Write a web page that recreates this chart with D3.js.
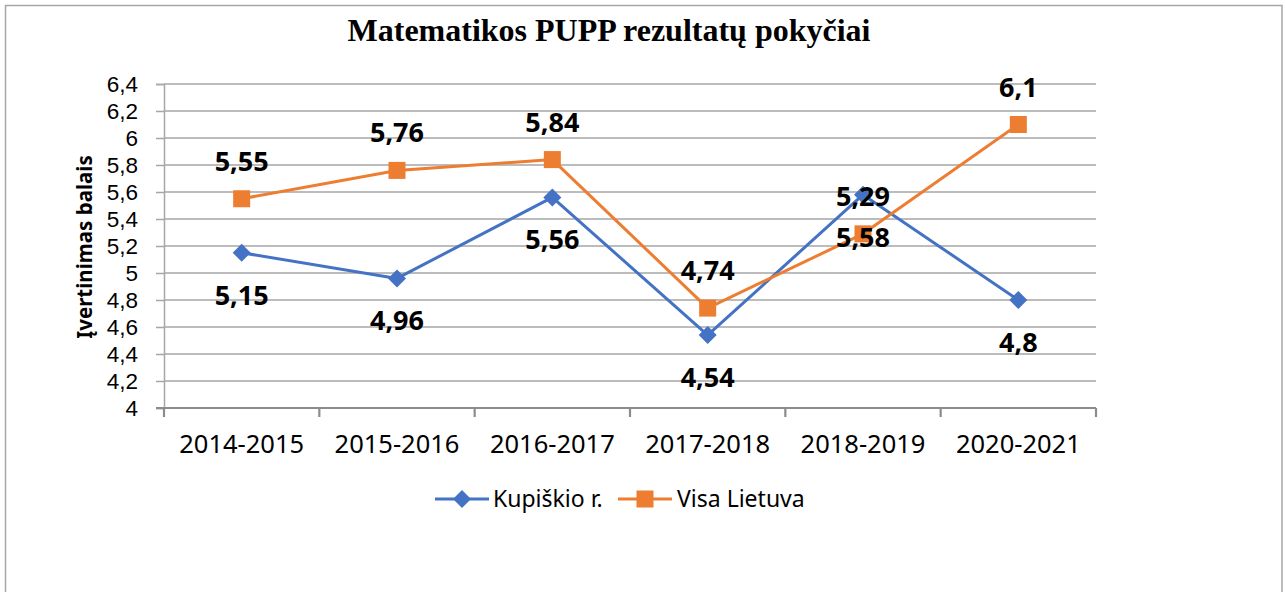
<!DOCTYPE html>
<html>
<head>
<meta charset="utf-8">
<script src="https://cdn.jsdelivr.net/npm/d3@7"></script>
<style>
  html, body { margin: 0; padding: 0; background: #fff; }
  svg { display: block; }
</style>
</head>
<body>
<svg id="chart" width="1285" height="592"></svg>
<script>
const title = "Matematikos PUPP rezultatų pokyčiai";
const yAxisTitle = "Įvertinimas balais";
const categories = ["2014-2015", "2015-2016", "2016-2017", "2017-2018", "2018-2019", "2020-2021"];
const seriesNames = ["Kupiškio r.", "Visa Lietuva"];
const kupiskio = [5.15, 4.96, 5.56, 4.54, 5.58, 4.8];
const lietuva = [5.55, 5.76, 5.84, 4.74, 5.29, 6.1];
const yTicks = [4, 4.2, 4.4, 4.6, 4.8, 5, 5.2, 5.4, 5.6, 5.8, 6, 6.2, 6.4];

(function () {
const svg = d3.select("#chart");
const pLeft = 164, pRight = 1096, pTop = 84, pBottom = 408;
const blue = "#4472C4", orange = "#ED7D31";
const sans = "'Noto Sans', 'Open Sans', sans-serif";
const tickFont = "'Liberation Sans', Arial, sans-serif";

// frame
svg.append("rect").attr("x", 5.5).attr("y", 5.5).attr("width", 1276.5).attr("height", 600)
  .attr("fill", "#fff").attr("stroke", "#a6a6a6").attr("stroke-width", 1.5);

const x = d3.scaleBand().domain(categories).range([pLeft, pRight]).padding(0);
const y = d3.scaleLinear().domain([4, 6.4]).range([pBottom, pTop]);
const fmt = v => String(v).replace(".", ",");

// gridlines
svg.append("g").selectAll("line").data(yTicks.filter(t => t !== 4)).join("line")
  .attr("x1", pLeft).attr("x2", pRight)
  .attr("y1", d => y(d)).attr("y2", d => y(d))
  .attr("stroke", "#a6a6a6").attr("stroke-width", 1.5);

// y axis
const yAxis = d3.axisLeft(y).tickValues(yTicks).tickSize(8).tickPadding(18).tickFormat(fmt);
const gy = svg.append("g").attr("transform", `translate(${pLeft},0)`).call(yAxis);
gy.select(".domain").attr("stroke", "#a6a6a6").attr("stroke-width", 1.5);
gy.selectAll(".tick line").attr("stroke", "#a6a6a6").attr("stroke-width", 1.5);
gy.selectAll(".tick text").attr("font-family", tickFont).attr("font-size", 22.5).attr("fill", "#000");

// x axis
const xAxis = d3.axisBottom(x).tickSize(0).tickPadding(27);
const gx = svg.append("g").attr("transform", `translate(0,${pBottom})`).call(xAxis);
gx.select(".domain").remove();
gx.selectAll(".tick text").attr("font-family", sans).attr("font-size", 25.5).attr("fill", "#000");
svg.append("line").attr("x1", pLeft - 8).attr("x2", pRight).attr("y1", pBottom).attr("y2", pBottom)
  .attr("stroke", "#8c8c8c").attr("stroke-width", 2.2);
const bounds = categories.map(c => x(c)).concat([pRight]);
svg.append("g").selectAll("line").data(bounds).join("line")
  .attr("x1", d => d).attr("x2", d => d).attr("y1", pBottom).attr("y2", pBottom + 9)
  .attr("stroke", "#8c8c8c").attr("stroke-width", 2.2);

const cx = c => x(c) + x.bandwidth() / 2;
const line = d3.line().x((d, i) => cx(categories[i])).y(d => y(d));

// blue series
svg.append("path").datum(kupiskio).attr("d", line).attr("fill", "none")
  .attr("stroke", blue).attr("stroke-width", 3).attr("stroke-linejoin", "round");
svg.append("g").selectAll("path").data(kupiskio).join("path")
  .attr("d", "M0,-9L9,0L0,9L-9,0Z").attr("fill", blue)
  .attr("transform", (d, i) => `translate(${cx(categories[i])},${y(d)})`);

// orange series
svg.append("path").datum(lietuva).attr("d", line).attr("fill", "none")
  .attr("stroke", orange).attr("stroke-width", 3).attr("stroke-linejoin", "round");
svg.append("g").selectAll("rect").data(lietuva).join("rect")
  .attr("x", (d, i) => cx(categories[i]) - 8.5).attr("y", d => y(d) - 8.5)
  .attr("width", 17).attr("height", 17).attr("fill", orange);

// data labels
svg.append("g").selectAll("text").data(kupiskio).join("text")
  .attr("x", (d, i) => cx(categories[i])).attr("y", d => y(d) + 52)
  .attr("text-anchor", "middle").attr("font-family", sans).attr("font-weight", "bold")
  .attr("font-size", 27).attr("fill", "#000").text(fmt);
svg.append("g").selectAll("text").data(lietuva).join("text")
  .attr("x", (d, i) => cx(categories[i])).attr("y", d => y(d) - 28)
  .attr("text-anchor", "middle").attr("font-family", sans).attr("font-weight", "bold")
  .attr("font-size", 27).attr("fill", "#000").text(fmt);

// title
svg.append("text").attr("x", 609).attr("y", 41).attr("text-anchor", "middle")
  .attr("font-family", "'Liberation Serif', 'Times New Roman', serif").attr("font-weight", "bold")
  .attr("font-size", 32).attr("fill", "#000").text(title);

// y axis title
svg.append("text").attr("transform", `translate(92,247) rotate(-90)`).attr("text-anchor", "middle")
  .attr("font-family", sans).attr("font-weight", "bold").attr("font-size", 20.5).attr("fill", "#000")
  .text(yAxisTitle);

// legend
const legend = svg.append("g");
const legendItems = [
  { name: seriesNames[0], color: blue, shape: "diamond", x0: 435, tx: 493 },
  { name: seriesNames[1], color: orange, shape: "square", x0: 618, tx: 677 }
];
const ly = 499;
legendItems.forEach(it => {
  legend.append("line").attr("x1", it.x0).attr("x2", it.x0 + 54).attr("y1", ly).attr("y2", ly)
    .attr("stroke", it.color).attr("stroke-width", 3);
  if (it.shape === "diamond") {
    legend.append("path").attr("d", "M0,-9L9,0L0,9L-9,0Z").attr("fill", it.color)
      .attr("transform", `translate(${it.x0 + 27},${ly})`);
  } else {
    legend.append("rect").attr("x", it.x0 + 27 - 8.5).attr("y", ly - 8.5).attr("width", 17).attr("height", 17)
      .attr("fill", it.color);
  }
  legend.append("text").attr("x", it.tx).attr("y", ly + 8).attr("font-family", sans)
    .attr("font-size", 23).attr("fill", "#000").text(it.name);
});
})();
</script>
</body>
</html>
